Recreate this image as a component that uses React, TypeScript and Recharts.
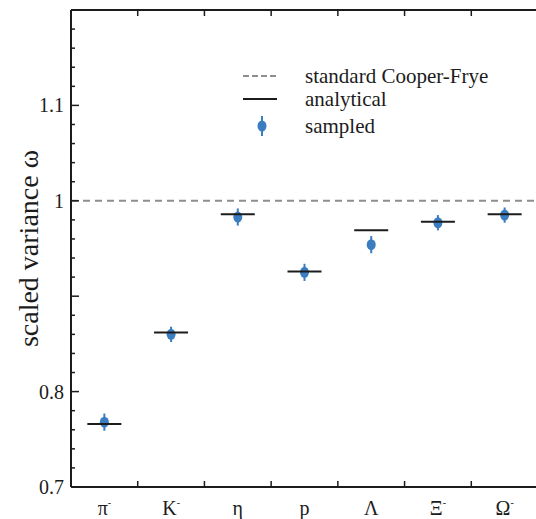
import { ComposedChart, ErrorBar, ReferenceLine, Scatter, XAxis, YAxis } from 'recharts';

const particles = ['π', 'K', 'η', 'p', 'Λ', 'Ξ', 'Ω'];
const charges = ['-', '-', '', '', '', '-', '-'];
const analytical = [0.766, 0.862, 0.986, 0.926, 0.969, 0.978, 0.986];
const sampled = [0.768, 0.86, 0.983, 0.925, 0.954, 0.977, 0.985];
const sampledErr = [0.009, 0.008, 0.009, 0.009, 0.009, 0.008, 0.008];

const yTicks = [0.7, 0.72, 0.74, 0.76, 0.78, 0.8, 0.82, 0.84, 0.86, 0.88, 0.9, 0.92, 0.94, 0.96, 0.98, 1, 1.02, 1.04, 1.06, 1.08, 1.1, 1.12, 1.14, 1.16, 1.18, 1.2];
const yLabels = { '0.7': '0.7', '0.8': '0.8', '1': '1', '1.1': '1.1' } as Record<string, string>;
const bottomTicks = [0.5, 1, 1.5, 2, 2.5, 3, 3.5, 4, 4.5, 5, 5.5, 6, 6.5];
const topTicks = [1, 2, 3, 4, 5, 6];

const BLUE = '#3a7dc0';
const INK = '#1c1c1c';
const FONT = 'Liberation Serif';

const rows = particles.map((p, i) => ({
  x: i + 0.5,
  analytical: analytical[i],
  sampled: sampled[i],
  err: sampledErr[i],
}));

function YTick(props: any) {
  const { x, y, payload } = props;
  const v = payload.value;
  const major = Math.abs(v * 10 - Math.round(v * 10)) < 1e-6;
  const label = yLabels[String(Math.round(v * 100) / 100)];
  return (
    <g>
      <line x1={x} x2={x + (major ? 8 : 4)} y1={y} y2={y} stroke={INK} strokeWidth={1.5} />
      {label && (
        <text x={x - 7} y={y + 7} textAnchor="end" fontSize={20} fill={INK} fontFamily={FONT}>
          {label}
        </text>
      )}
    </g>
  );
}

function XTick(props: any) {
  const { x, y, payload } = props;
  const v = payload.value;
  if (Number.isInteger(v)) {
    return <line x1={x} x2={x} y1={y} y2={y - 6} stroke={INK} strokeWidth={1.5} />;
  }
  const i = Math.floor(v);
  return (
    <text x={x} y={y + 28} textAnchor="middle" fontSize={20} fill={INK} fontFamily={FONT}>
      <tspan>{particles[i]}</tspan>
      {charges[i] && (
        <tspan dy={-9} fontSize={10}>
          {charges[i]}
        </tspan>
      )}
    </text>
  );
}

function TopTick(props: any) {
  const { x, y } = props;
  return <line x1={x} x2={x} y1={y} y2={y + 6} stroke={INK} strokeWidth={1.5} />;
}

function AnalyticShape(props: any) {
  const { cx, cy } = props;
  return <line x1={cx - 17} x2={cx + 17} y1={cy} y2={cy} stroke={INK} strokeWidth={2} />;
}

function SampledShape(props: any) {
  const { cx, cy } = props;
  return <ellipse cx={cx} cy={cy} rx={4.5} ry={5.5} fill={BLUE} />;
}

function LegendRow({ top, children, text }: { top: number; children: any; text: string }) {
  return (
    <div
      style={{
        position: 'absolute',
        left: 240,
        top,
        display: 'flex',
        alignItems: 'center',
        height: 24,
        fontSize: 21,
        color: INK,
        whiteSpace: 'nowrap',
      }}
    >
      <svg width={40} height={24}>
        {children}
      </svg>
      <span style={{ marginLeft: 25 }}>{text}</span>
    </div>
  );
}

export default function App() {
  return (
    <div
      className="plot-root"
      style={{
        position: 'fixed',
        left: 0,
        top: 0,
        width: 536,
        height: 519,
        overflow: 'hidden',
        background: '#fff',
      }}
    >
      <style>{`.plot-root, .plot-root * { font-family: "Liberation Serif", "Times New Roman", serif !important; }`}</style>
      <ComposedChart width={538} height={519} data={rows} margin={{ top: 0, right: 0, bottom: 0, left: 0 }}>
        <XAxis
          xAxisId="top"
          orientation="top"
          type="number"
          dataKey="x"
          domain={[0, 7]}
          ticks={topTicks}
          height={10}
          tickSize={0}
          tickMargin={0}
          tick={<TopTick />}
          axisLine={{ stroke: INK, strokeWidth: 2 }}
        />
        <XAxis
          type="number"
          dataKey="x"
          domain={[0, 7]}
          ticks={bottomTicks}
          height={32}
          tickSize={0}
          tickMargin={0}
          tick={<XTick />}
          interval={0}
          axisLine={{ stroke: INK, strokeWidth: 2 }}
        />
        <YAxis
          type="number"
          domain={[0.7, 1.2]}
          ticks={yTicks}
          width={71}
          tickSize={0}
          tickMargin={0}
          interval={0}
          tick={<YTick />}
          axisLine={{ stroke: INK, strokeWidth: 2 }}
          label={{
            value: 'scaled variance ω',
            angle: -90,
            position: 'insideLeft',
            offset: 0,
            dx: 28,
            fontSize: 28,
            fill: INK,
            style: { textAnchor: 'middle' },
          }}
        />
        <ReferenceLine y={1} stroke="#8e8e8e" strokeWidth={2} strokeDasharray="7 5" />
        <Scatter dataKey="sampled" shape={<SampledShape />} isAnimationActive={false}>
          <ErrorBar dataKey="err" direction="y" width={0} stroke={BLUE} strokeWidth={2} />
        </Scatter>
        <Scatter dataKey="analytical" shape={<AnalyticShape />} isAnimationActive={false} />
      </ComposedChart>
      <LegendRow top={64} text="standard Cooper-Frye">
        <line x1={3} x2={37} y1={12} y2={12} stroke="#8e8e8e" strokeWidth={2} strokeDasharray="6 3" />
      </LegendRow>
      <LegendRow top={87} text="analytical">
        <line x1={3} x2={37} y1={12} y2={12} stroke={INK} strokeWidth={2} />
      </LegendRow>
      <LegendRow top={114} text="sampled">
        <line x1={22} x2={22} y1={2} y2={22} stroke={BLUE} strokeWidth={2} />
        <ellipse cx={22} cy={12} rx={4.5} ry={5.5} fill={BLUE} />
      </LegendRow>
    </div>
  );
}
